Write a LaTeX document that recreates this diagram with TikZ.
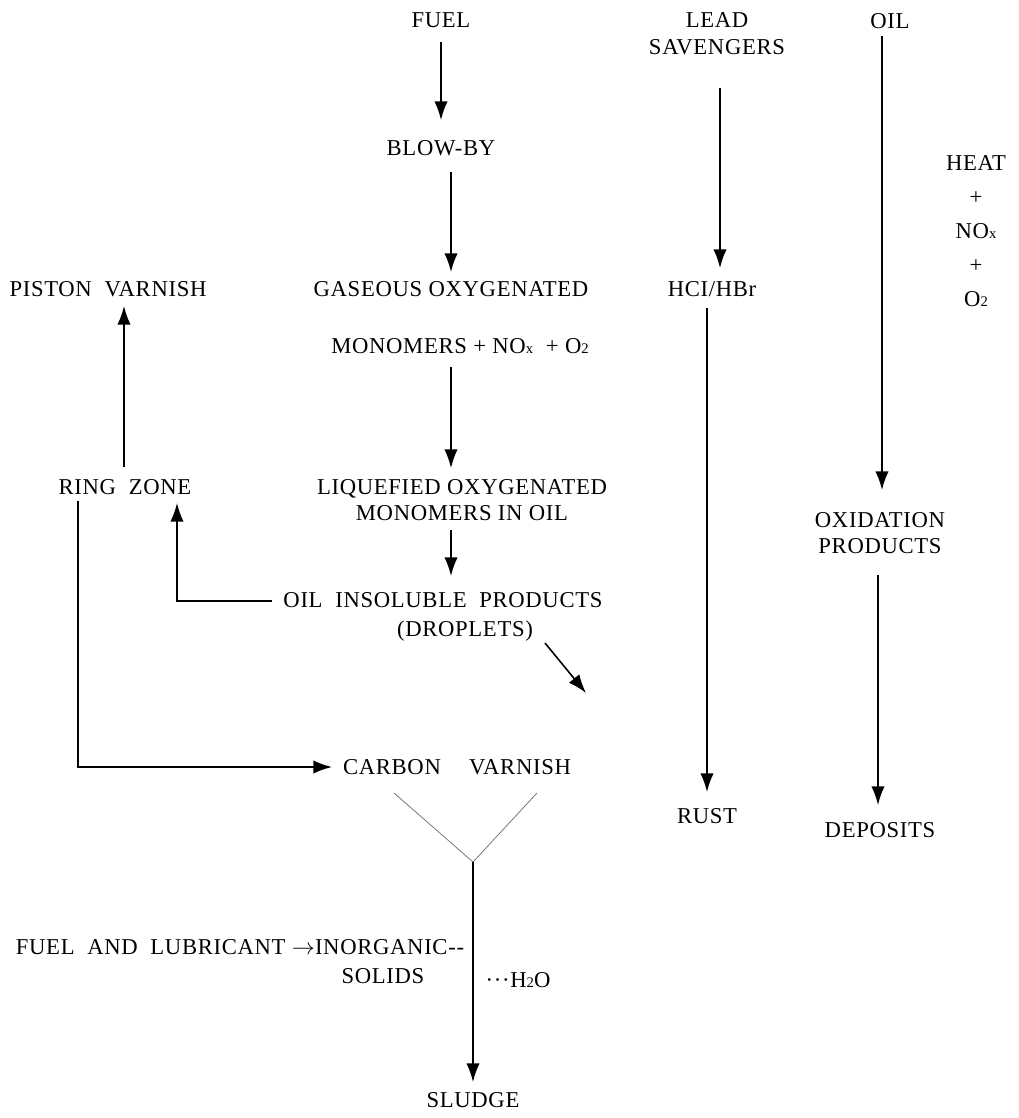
\documentclass[tikz,border=0pt]{standalone}
\usepackage{fontspec}
\setmainfont{Liberation Serif}[LetterSpace=3]
\usetikzlibrary{arrows.meta,calc}
\newcommand{\lowsub}[1]{\raisebox{-0.5pt}{\fontsize{11}{11}\selectfont #1}}
\begin{document}
\begin{tikzpicture}[x=0.75pt,y=-0.75pt,
  lbl/.style={font=\fontsize{17}{20}\selectfont, inner sep=0pt, align=center},
  arr/.style={line width=1.2pt, -{Latex[length=14pt,width=10pt]}},
  thin/.style={line width=0.5pt, draw=black!60}]
\useasboundingbox (0,0) rectangle (1018,1118);
% centre column
\node[lbl] (fuel) at (441,20) {FUEL};
\node[lbl] (blowby) at (441,148) {BLOW-BY};
\node[lbl] (gas) at (451,289) {GASEOUS OXYGENATED};
\node[lbl] (mono) at (460,346) {MONOMERS + NO\lowsub{x}\ \ + O\lowsub{2}};
\node[lbl] (liq) at (462,500) {LIQUEFIED OXYGENATED\\MONOMERS IN OIL};
\node[lbl] (ois1) at (443,600) {OIL\ \ INSOLUBLE\ \ PRODUCTS};
\node[lbl] (ois2) at (465,631) {(DROPLETS)};
\node[lbl] (carbon) at (392,767) {CARBON};
\node[lbl] (varnish) at (520,767) {VARNISH};
\coordinate (vtx) at (473,862);
\node[lbl] (fal) at (240,947) {FUEL\ \ AND\ \ LUBRICANT $\rightarrow$INORGANIC-{}-};
\node[lbl] (solids) at (383,976) {SOLIDS};
\node[lbl] (h2o) at (518,980) {···H\lowsub{2}O};
\node[lbl] (sludge) at (473,1100) {SLUDGE};
% left column
\node[lbl] (piston) at (108,289) {PISTON\ \ VARNISH};
\node[lbl] (ring) at (125,487) {RING\ \ ZONE};
% right columns
\node[lbl] (lead) at (717,34) {LEAD\\SAVENGERS};
\node[lbl] (hcl) at (712,289) {HCI/HBr};
\node[lbl] (rust) at (707,816) {RUST};
\node[lbl] (oil) at (890,21) {OIL};
\node[lbl, font=\fontsize{17}{25.5}\selectfont] (heat) at (976,231) {HEAT\\+\\NO\lowsub{x}\\+\\O\lowsub{2}};
\node[lbl] (oxid) at (880,533) {OXIDATION\\PRODUCTS};
\node[lbl] (deposits) at (880,830) {DEPOSITS};
% connectors
\draw[arr] ($(fuel)+(0,22)$) -- ($(blowby)+(0,-28)$);
\draw[arr] ($(blowby)+(10,24)$) -- ($(gas)+(0,-17)$);
\draw[arr] ($(mono)+(-9,21)$) -- ($(liq)+(-11,-32)$);
\draw[arr] ($(liq)+(-11,30)$) -- ($(ois1)+(8,-24)$);
\draw[arr] ($(ois1)+(-171,1)$) -| ($(ring)+(52,16)$);
\draw[arr] ($(ring)+(-1,-20)$) -- ($(piston)+(16,17)$);
\draw[arr] ($(ring)+(-47,14)$) |- ($(carbon)+(-60,0)$);
\draw[arr] ($(ois2)+(80,12)$) -- ($(varnish)+(66,-74)$);
\draw[thin] ($(carbon)+(2,26)$) -- (vtx) -- ($(varnish)+(17,26)$);
\draw[arr] (vtx) -- ($(sludge)+(0,-18)$);
\draw[arr] ($(lead)+(3,54)$) -- ($(hcl)+(8,-21)$);
\draw[arr] ($(hcl)+(-5,19)$) -- ($(rust)+(0,-24)$);
\draw[arr] ($(oil)+(-8,15)$) -- ($(oxid)+(2,-43)$);
\draw[arr] ($(oxid)+(-2,42)$) -- ($(deposits)+(-2,-25)$);
\end{tikzpicture}
\end{document}
